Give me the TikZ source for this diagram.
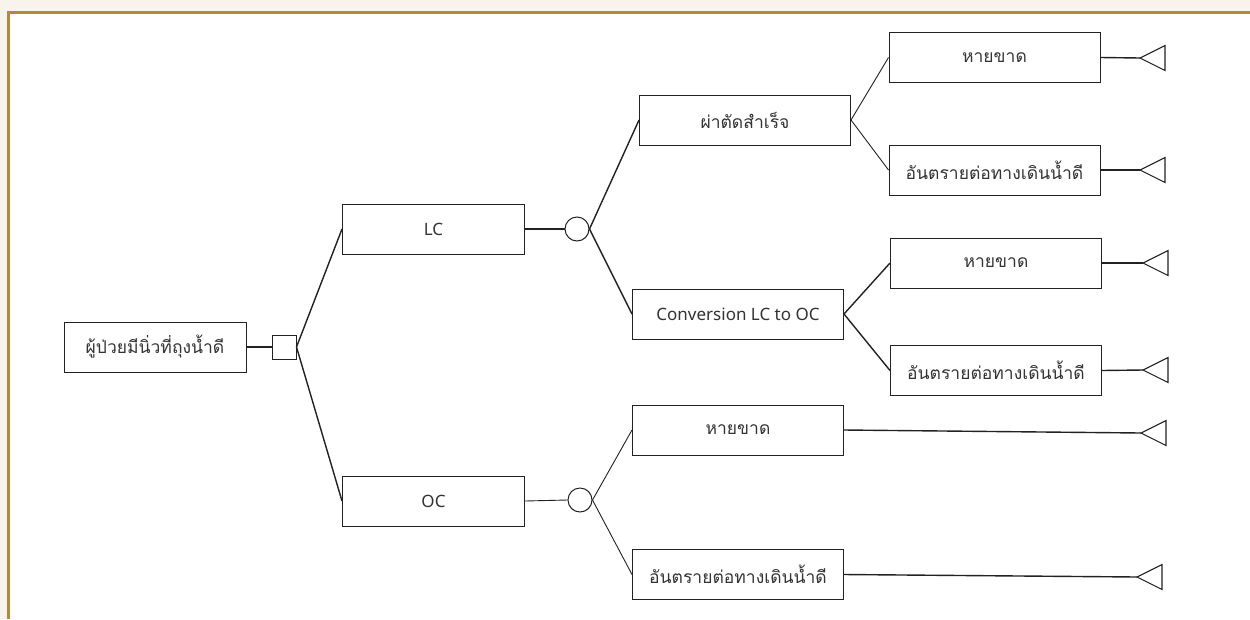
\documentclass[tikz,border=0pt]{standalone}
\usepackage{fontspec}
\setmainfont{Noto Sans}
\newfontfamily\thaifont[Script=Thai]{Loma}
\definecolor{cream}{HTML}{F8F4ED}
\definecolor{gold}{HTML}{B7873B}
\definecolor{ink}{HTML}{222222}
\definecolor{txt}{HTML}{333333}
\begin{document}
\begin{tikzpicture}[x=1pt,y=-1pt,
  box/.style={draw=ink, line width=1pt, minimum width=182pt, minimum height=50pt, inner sep=0pt, text=txt, font=\fontsize{17.5}{20}\selectfont\thaifont},
  lbox/.style={box, font=\fontsize{17}{20}\selectfont},
  wbox/.style={box, minimum width=211pt},
  conn/.style={draw=ink, line width=1.4pt},
  thin/.style={draw=ink, line width=0.9pt},
  chance/.style={circle, draw=ink, line width=1pt, minimum size=24pt, inner sep=0pt},
  decision/.style={rectangle, draw=ink, line width=1pt, minimum size=24pt, inner sep=0pt},
  term/.style={draw=ink, line width=1.1pt, line join=miter}]
\useasboundingbox (0,0) rectangle (1250,619);
\fill[cream] (0,0) rectangle (1250,619);
\fill[white] (8,12) rectangle (1250,619);
\draw[gold, line width=3pt] (8.5,619) -- (8.5,12.5) -- (1250,12.5);

\node[box] (root) at (155,347) {ผู้ป่วยมีนิ่วที่ถุงน้ำดี};
\node[decision] (sq) at (284,347) {};
\node[lbox] (lc) at (433.5,229) {LC};
\node[lbox] (oc) at (433.5,501) {OC};
\node[chance] (c1) at (577,229) {};
\node[chance] (c2) at (580,500) {};
\node[wbox] (succ) at (745,120) {ผ่าตัดสำเร็จ};
\node[wbox, font=\fontsize{17}{20}\selectfont] (conv) at (738,314) {Conversion LC to OC};
\node[wbox] (h1) at (994.5,57.5) {หายขาด};
\node[wbox] (d1) at (994.5,170) {อันตรายต่อทางเดินน้ำดี};
\node[wbox] (h2) at (996,263) {หายขาด};
\node[wbox] (d2) at (996,370.5) {อันตรายต่อทางเดินน้ำดี};
\node[wbox] (h3) at (738,430) {หายขาด};
\node[wbox] (d3) at (738,574.5) {อันตรายต่อทางเดินน้ำดี};

\coordinate (t1) at (1140,58);
\coordinate (t2) at (1140,170);
\coordinate (t3) at (1143,263);
\coordinate (t4) at (1143,370);
\coordinate (t5) at (1141,433);
\coordinate (t6) at (1137,577);

\draw[conn] (root.east) -- (sq.west);
\draw[conn] (sq.east) -- (lc.west);
\draw[conn] (sq.east) -- (oc.west);
\draw[conn] (lc.east) -- (c1.west);
\draw[conn] (c1.east) -- (succ.west);
\draw[conn] (c1.east) -- (conv.west);
\draw[thin] (oc.east) -- (c2.west);
\draw[thin] (c2.east) -- (h3.west);
\draw[thin] (c2.east) -- (d3.west);
\draw[thin] (succ.east) -- (h1.west);
\draw[thin] (succ.east) -- (d1.west);
\draw[conn] (conv.east) -- (h2.west);
\draw[conn] (conv.east) -- (d2.west);
\draw[conn] (h1.east) -- (t1);
\draw[conn] (d1.east) -- (t2);
\draw[conn] (h2.east) -- (t3);
\draw[conn] (d2.east) -- (t4);
\draw[conn] (h3.east) -- (t5);
\draw[conn] (d3.east) -- (t6);

\foreach \t in {t1,t2,t3,t4,t5,t6}
  \draw[term] (\t) -- ++(25,-12.5) -- ++(0,25) -- cycle;
\end{tikzpicture}
\end{document}
